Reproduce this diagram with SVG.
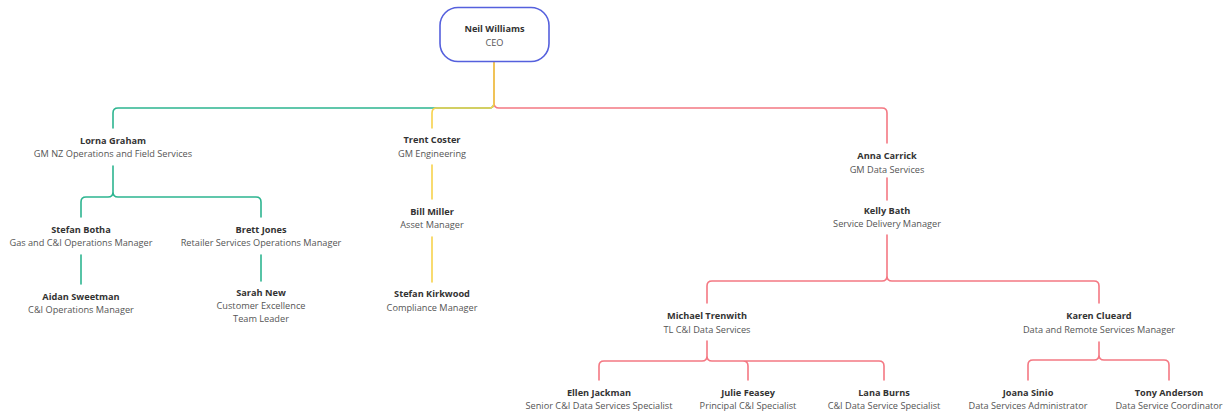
<svg xmlns="http://www.w3.org/2000/svg" width="1230" height="415" viewBox="0 0 1230 415">
<style>
text{font-family:"Open Sans","Noto Sans","Liberation Sans",sans-serif;font-size:9.2px;text-anchor:middle}
.n{font-weight:bold;fill:#333}
.t{fill:#555}
.c{fill:none;stroke-width:1.6;stroke-linecap:round}
.g{stroke:#2db590}
.y{stroke:#f7d24c}
.r{stroke:#f47883}
</style>
<rect width="1230" height="415" fill="#fff"/>
<g id="connectors">
<path class="c g" d="M494,62 V103 Q494,108 489,108 H118 Q113,108 113,113 V128"/>
<path class="c r" d="M494,62 V103 Q494,108 499,108 H882 Q887,108 887,113 V143"/>
<path class="c y" d="M494,62 V103 Q494,108 489,108 H437 Q432,108 432,113 V128"/>
<path class="c g" d="M113,166 V192 Q113,197 108,197 H86 Q81,197 81,202 V217 M113,192 Q113,197 118,197 H256 Q261,197 261,202 V217"/>
<path class="c g" d="M81,255 V284"/>
<path class="c g" d="M261,255 V281"/>
<path class="c y" d="M432,165 V199"/>
<path class="c y" d="M432,237 V282"/>
<path class="c r" d="M887,178 V200"/>
<path class="c r" d="M887,235 V276 Q887,281 882,281 H712 Q707,281 707,286 V303 M887,276 Q887,281 892,281 H1094 Q1099,281 1099,286 V303"/>
<path class="c r" d="M707,341 V356 Q707,361 702,361 H604 Q599,361 599,366 V380 M707,356 Q707,361 712,361 H743 Q748,361 748,366 V380 M712,361 H879 Q884,361 884,366 V380"/>
<path class="c r" d="M1099,342 V355 Q1099,360 1094,360 H1033 Q1028,360 1028,365 V380 M1099,355 Q1099,360 1104,360 H1164 Q1169,360 1169,365 V380"/>
</g>
<g id="ceo">
<rect x="440" y="7.5" width="109" height="54" rx="18" fill="#fff" stroke="#5560dd" stroke-width="1.6"/>
<text class="n" x="494.5" y="31.5">Neil Williams</text>
<text class="t" x="494.5" y="45.5">CEO</text>
</g>
<g id="lorna"><text class="n" x="113" y="143.5">Lorna Graham</text><text class="t" x="113" y="157">GM NZ Operations and Field Services</text></g>
<g id="trent"><text class="n" x="432" y="142.5">Trent Coster</text><text class="t" x="432" y="156.5">GM Engineering</text></g>
<g id="anna"><text class="n" x="887" y="159">Anna Carrick</text><text class="t" x="887" y="172.5">GM Data Services</text></g>
<g id="stefanb"><text class="n" x="81" y="232.5">Stefan Botha</text><text class="t" x="81" y="246">Gas and C&amp;I Operations Manager</text></g>
<g id="brett"><text class="n" x="261" y="232.5">Brett Jones</text><text class="t" x="261" y="246">Retailer Services Operations Manager</text></g>
<g id="aidan"><text class="n" x="81" y="300">Aidan Sweetman</text><text class="t" x="81" y="313">C&amp;I Operations Manager</text></g>
<g id="sarah"><text class="n" x="261" y="295.5">Sarah New</text><text class="t" x="261" y="309">Customer Excellence</text><text class="t" x="261" y="321.5">Team Leader</text></g>
<g id="bill"><text class="n" x="432" y="215">Bill Miller</text><text class="t" x="432" y="228">Asset Manager</text></g>
<g id="stefank"><text class="n" x="432" y="297">Stefan Kirkwood</text><text class="t" x="432" y="310.5">Compliance Manager</text></g>
<g id="kelly"><text class="n" x="887" y="214">Kelly Bath</text><text class="t" x="887" y="227">Service Delivery Manager</text></g>
<g id="michael"><text class="n" x="707" y="319">Michael Trenwith</text><text class="t" x="707" y="332.5">TL C&amp;I Data Services</text></g>
<g id="karen"><text class="n" x="1099" y="319">Karen Clueard</text><text class="t" x="1099" y="332.5">Data and Remote Services Manager</text></g>
<g id="ellen"><text class="n" x="599" y="396">Ellen Jackman</text><text class="t" x="599" y="409">Senior C&amp;I Data Services Specialist</text></g>
<g id="julie"><text class="n" x="748" y="396">Julie Feasey</text><text class="t" x="748" y="409">Principal C&amp;I Specialist</text></g>
<g id="lana"><text class="n" x="884" y="396">Lana Burns</text><text class="t" x="884" y="409">C&amp;I Data Service Specialist</text></g>
<g id="joana"><text class="n" x="1028" y="396">Joana Sinio</text><text class="t" x="1028" y="409">Data Services Administrator</text></g>
<g id="tony"><text class="n" x="1169" y="396">Tony Anderson</text><text class="t" x="1169" y="409">Data Service Coordinator</text></g>
</svg>
